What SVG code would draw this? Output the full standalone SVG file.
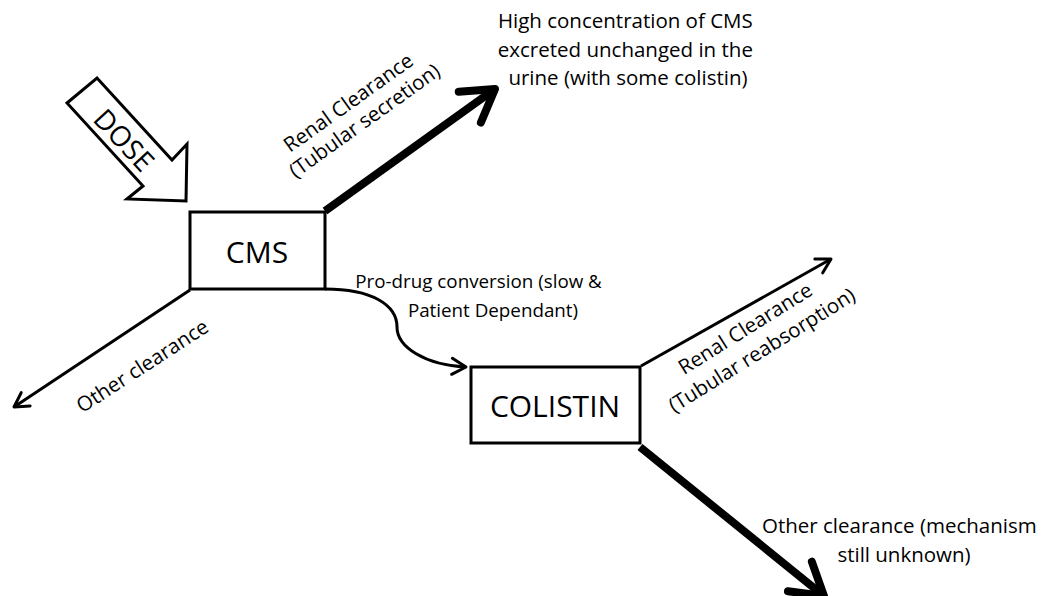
<svg xmlns="http://www.w3.org/2000/svg" width="1045" height="596" viewBox="0 0 1045 596">
<style>
  text { font-family: "Open Sans", "Liberation Sans", sans-serif; fill: #000; }
  .lbl { font-size: 20.5px; }
  .mid { font-size: 18.8px; }
  .big { font-size: 30px; }
  .box { fill: #fff; stroke: #000; stroke-width: 3; }
  .thin { fill: none; stroke: #000; stroke-width: 3; }
  .thick { fill: none; stroke: #000; stroke-width: 8; }
</style>
<defs>
  <marker id="headThin" markerUnits="userSpaceOnUse" viewBox="-20 -14 26 28" markerWidth="26" markerHeight="28" refX="0" refY="0" orient="auto" overflow="visible">
    <path d="M-14,-8 L0,0 L-14,8" fill="none" stroke="#000" stroke-width="3" stroke-linejoin="round" stroke-linecap="round"/>
  </marker>
  <marker id="headThick" markerUnits="userSpaceOnUse" viewBox="-40 -26 50 52" markerWidth="50" markerHeight="52" refX="0" refY="0" orient="auto" overflow="visible">
    <path d="M-31,-19 L0,0 L-31,19" fill="none" stroke="#000" stroke-width="8" stroke-linejoin="round" stroke-linecap="round"/>
  </marker>
</defs>
<rect width="1045" height="596" fill="#fff"/>

<g id="connectors">
  <path id="c-renal-secretion" class="thick" d="M325,211 L495,89" marker-end="url(#headThick)"/>
  <path id="c-other-cms" class="thin" d="M190,290 L14,407" marker-end="url(#headThin)"/>
  <path id="c-prodrug" class="thin" d="M325,289 C372,289 397,305 397,327 C397,347 425,365 466,367" marker-end="url(#headThin)"/>
  <path id="c-renal-reabsorption" class="thin" d="M641,366 L831,259" marker-end="url(#headThin)"/>
  <path id="c-other-colistin" class="thick" d="M640,447 L824,596" marker-end="url(#headThick)"/>
</g>

<g id="dose">
  <polygon points="67,103 97,78 172,160 187,144 186,201 127,199 143,186" fill="#fff" stroke="#000" stroke-width="3" stroke-linejoin="miter"/>
  <text transform="translate(124,140) rotate(47)" text-anchor="middle" y="10" style="font-size:28px">DOSE</text>
</g>

<g id="cms">
  <rect class="box" x="190" y="212" width="135" height="77"/>
  <text class="big" x="257" y="263" text-anchor="middle">CMS</text>
</g>

<g id="colistin">
  <rect class="box" x="471" y="367" width="169" height="76"/>
  <text class="big" x="555" y="417" text-anchor="middle">COLISTIN</text>
</g>

<g id="labels">
  <text class="lbl" text-anchor="middle">
    <tspan x="628" y="28">High concentration of CMS</tspan>
    <tspan x="628" y="57">excreted unchanged in the</tspan>
    <tspan x="628" y="85">urine (with some colistin)</tspan>
  </text>
  <text class="lbl" text-anchor="middle" transform="translate(357.5,111) rotate(-35.6)">
    <tspan x="0" y="-5">Renal Clearance</tspan>
    <tspan x="0" y="19">(Tubular secretion)</tspan>
  </text>
  <text class="mid" text-anchor="middle">
    <tspan x="481" y="288">Pro-drug conversion (slow &amp;</tspan>
    <tspan x="493" y="317">Patient Dependant)</tspan>
  </text>
  <text class="lbl" text-anchor="middle" transform="translate(143,367) rotate(-33)" y="6">Other clearance</text>
  <text class="lbl" text-anchor="middle" transform="translate(755.5,340) rotate(-32)">
    <tspan x="0" y="-8">Renal Clearance</tspan>
    <tspan x="0" y="19">(Tubular reabsorption)</tspan>
  </text>
  <text class="lbl" text-anchor="middle">
    <tspan x="902" y="533">Other clearance (mechanism</tspan>
    <tspan x="904" y="562">still unknown)</tspan>
  </text>
</g>
</svg>
